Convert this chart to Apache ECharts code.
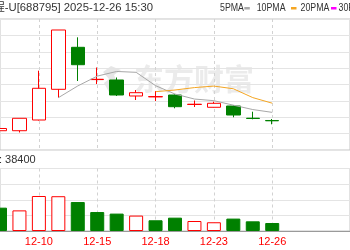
<!DOCTYPE html>
<html>
<head>
<meta charset="utf-8">
<script src="https://cdn.jsdelivr.net/npm/echarts@6/dist/echarts.min.js"></script>
<style>
html,body{margin:0;padding:0;background:#fff;}
#chart{width:350px;height:250px;}
</style>
</head>
<body>
<div id="chart"></div>
<script>
// ---- data ----
const stockName = '摩尔线程-U[688795] 2025-12-26 15:30';
const dates  = ['12-08','12-09','12-10','12-11','12-12','12-15','12-16','12-17','12-18','12-19','12-22','12-23','12-24','12-25','12-26'];
const opens  = [550.7, 550.7, 589.9, 702.4, 856.3, 738.0, 736.5, 677.9, 674.6, 681.5, 646.7, 636.5, 641.2, 596.5, 588.1];
const closes = [558.8, 596.2, 706.1, 919.7, 792.5, 739.1, 681.5, 690.0, 675.7, 638.7, 647.8, 651.1, 608.2, 595.4, 587.0];
const lows   = [549.6, 544.1, 588.0, 671.6, 732.8, 721.8, 677.9, 663.2, 659.5, 632.8, 637.6, 635.7, 599.8, 592.5, 574.2];
const highs  = [559.5, 596.2, 770.6, 919.7, 892.9, 782.3, 745.6, 699.8, 696.2, 684.1, 661.4, 657.0, 643.0, 620.3, 593.6];
const prevClose = 577.5; // close of 12-05, before the first visible day
const ma5  = ['-','-','-',671.7,714.7,750.7,767.8,764.6,715.8,685.0,666.7,660.7,644.3,628.2,617.9];
const ma10 = ['-','-','-','-','-','-','-','-',693.7,699.8,708.7,714.2,704.4,672.0,651.5];
const volumes = [112000, 99000, 168000, 167000, 139000, 91000, 83500, 74000, 51500, 64000, 48000, 42000, 59500, 46500, 38400];
const tickLabels = ['12-10','12-15','12-18','12-23','12-26'];
const maNames = ['5PMA','10PMA','20PMA','30PMA'];
const emptySlots = 4;

// ---- styles ----
const RED = '#ff0000', GREEN = '#008000';
const maColors = ['#a8a8a8', '#f5a623', '#ff00ff', '#2a9d2a'];
const legendX = [220, 256.7, 300.5, 338.5];
const dashX = [244.3, 291, 331];
const font = '"Liberation Sans","Noto Sans CJK SC",sans-serif';

const axisCats = dates.concat(new Array(emptySlots).fill(''));
const showTick = (idx, val) => tickLabels.indexOf(val) >= 0;

const candleData = dates.map((d, i) => [opens[i], closes[i], lows[i], highs[i]]);
const volData = volumes.map((v, i) => {
  const pc = i === 0 ? prevClose : closes[i - 1];
  const up = closes[i] >= pc;
  return {
    value: v,
    itemStyle: up ? {color: '#fff', borderColor: RED, borderWidth: 1}
                  : {color: GREEN, borderColor: GREEN, borderWidth: 1}
  };
});

const graphics = [
  {type: 'text', x: 153, y: 8, z: 10, style: {text: stockName, fill: '#333', font: '11.3px ' + font, textAlign: 'right', textVerticalAlign: 'middle'}},
  {type: 'text', x: -1, y: 160, z: 10, style: {text: ': ' + volumes[volumes.length - 1], fill: '#333', font: '11px ' + font, textAlign: 'left', textVerticalAlign: 'middle'}},
  // watermark
  {type: 'text', x: 134, y: 79, z: 0, silent: true, style: {text: '东方财富', fill: '#ebebeb', font: 'bold 30px "Noto Sans CJK SC"', textAlign: 'left', textVerticalAlign: 'middle'}},
  {type: 'polygon', z: 0, silent: true, shape: {points: [[103,72],[111,66],[121,70],[114,75],[120,89],[109,92],[104,83],[109,79]]}, style: {fill: '#e6e6e6'}}
];
maNames.forEach((n, i) => {
  graphics.push({type: 'text', x: legendX[i], y: 8, scaleX: 0.8, z: 10, style: {text: n, fill: '#333', font: '11px ' + font, textAlign: 'left', textVerticalAlign: 'middle'}});
  if (i < 3) {
    graphics.push({type: 'rect', z: 10, shape: {x: dashX[i], y: 7, width: 5.5, height: 2.5}, style: {fill: maColors[i]}});
  }
});

const splitX = {show: true, interval: showTick, lineStyle: {type: [3, 3], color: '#d2d2d2', width: 1}};

const option = {
  animation: false,
  backgroundColor: '#fff',
  graphic: graphics,
  grid: [
    {left: -6, right: -20.2, top: 19, height: 131, show: true, borderColor: '#c4c4c4', borderWidth: 1},
    {left: -6, right: -20.2, top: 168.5, height: 62.5, show: true, borderColor: '#c4c4c4', borderWidth: 1}
  ],
  xAxis: [
    {type: 'category', gridIndex: 0, data: axisCats, boundaryGap: false,
     axisLine: {show: false}, axisTick: {show: false}, axisLabel: {show: false}, splitLine: splitX},
    {type: 'category', gridIndex: 1, data: axisCats, boundaryGap: false,
     axisLine: {show: true, lineStyle: {color: '#9a9a9a'}}, axisTick: {show: false},
     axisLabel: {interval: showTick, color: RED, fontSize: 11, fontFamily: font, margin: 5},
     splitLine: splitX}
  ],
  yAxis: [
    {type: 'value', gridIndex: 0, min: 480, max: 960, interval: 60, scale: false,
     axisLine: {show: false}, axisTick: {show: false}, axisLabel: {show: false},
     splitLine: {lineStyle: {color: '#e4e4e4'}}},
    {type: 'value', gridIndex: 1, min: 0, max: 300000, interval: 75000,
     axisLine: {show: false}, axisTick: {show: false}, axisLabel: {show: false},
     splitLine: {lineStyle: {color: '#e4e4e4'}}}
  ],
  series: [
    {type: 'candlestick', xAxisIndex: 0, yAxisIndex: 0, data: candleData, barWidth: 14, z: 3,
     itemStyle: {color: '#fff', color0: GREEN, borderColor: RED, borderColor0: GREEN, borderWidth: 1}},
    {type: 'line', name: maNames[0], xAxisIndex: 0, yAxisIndex: 0, data: ma5, symbol: 'none', z: 4,
     lineStyle: {color: maColors[0], width: 1}},
    {type: 'line', name: maNames[1], xAxisIndex: 0, yAxisIndex: 0, data: ma10, symbol: 'none', z: 4,
     lineStyle: {color: maColors[1], width: 1}},
    {type: 'bar', xAxisIndex: 1, yAxisIndex: 1, data: volData, barWidth: 14, z: 3}
  ]
};

const chart = echarts.init(document.getElementById('chart'), null, {renderer: 'canvas'});
chart.setOption(option);
</script>
</body>
</html>
